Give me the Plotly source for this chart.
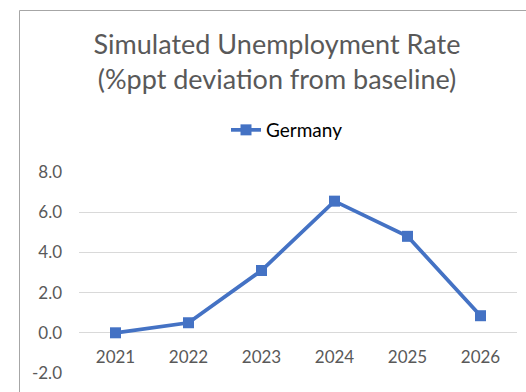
import plotly.graph_objects as go

years = ["2021", "2022", "2023", "2024", "2025", "2026"]
germany = [0.0, 0.5, 3.1, 6.55, 4.8, 0.85]
y_ticks = [-2, 0, 2, 4, 6, 8]
y_tick_labels = ["-2.0", "0.0", "2.0", "4.0", "6.0", "8.0"]

W, H = 526, 392
L, R, T, B = 79, 9, 172, 19
pw, ph = W - L - R, H - T - B

blue = "#4472C4"
grey_text = "#595959"
font_family = "Lato, 'Open Sans', 'Liberation Sans', sans-serif"

fig = go.Figure()
fig.add_trace(go.Scatter(
    x=years, y=germany, name="Germany", mode="lines+markers",
    line=dict(color=blue, width=3.75),
    marker=dict(symbol="square", size=11, color=blue),
))

ymin, ymax = -2, 8
zero_pos = (0 - ymin) / (ymax - ymin)

fig.update_layout(
    width=W, height=H,
    margin=dict(l=L, r=R, t=T, b=B),
    paper_bgcolor="white", plot_bgcolor="white",
    font=dict(family=font_family, color=grey_text, size=17),
    title=dict(
        text="Simulated Unemployment Rate<br>(%ppt deviation from baseline)",
        font=dict(size=27, color=grey_text, family=font_family),
        x=(277 - L) / pw, xref="paper", xanchor="center",
        y=1 - 54 / H, yref="container", yanchor="middle",
    ),
    showlegend=True,
    legend=dict(
        orientation="h", x=(287 - L) / pw, xanchor="center",
        y=1 + (172 - 130) / ph, yanchor="middle",
        font=dict(size=19, color="black", family=font_family),
        bgcolor="rgba(0,0,0,0)",
    ),
    xaxis=dict(
        type="category", showgrid=False, showline=False, zeroline=False,
        ticks="", anchor="free", position=zero_pos,
        tickfont=dict(size=17, color=grey_text), ticklabelstandoff=12,
        range=[-0.5, 5.5],
    ),
    yaxis=dict(
        range=[ymin, ymax], tickvals=y_ticks, ticktext=y_tick_labels,
        showgrid=True, gridcolor="#D9D9D9", gridwidth=1,
        zeroline=False, showline=False, ticks="",
        tickfont=dict(size=17, color=grey_text), ticklabelstandoff=16,
    ),
    shapes=[dict(
        type="rect", xref="paper", yref="paper",
        x0=(19.5 - L) / pw, x1=1.2, y0=-0.5, y1=1 + (T - 10.5) / ph,
        line=dict(color="#A6A6A6", width=1), fillcolor="rgba(0,0,0,0)",
        layer="above",
    )],
)

fig.write_html("out.html", config={"displayModeBar": False},
               post_script="document.body.style.margin='0';")
